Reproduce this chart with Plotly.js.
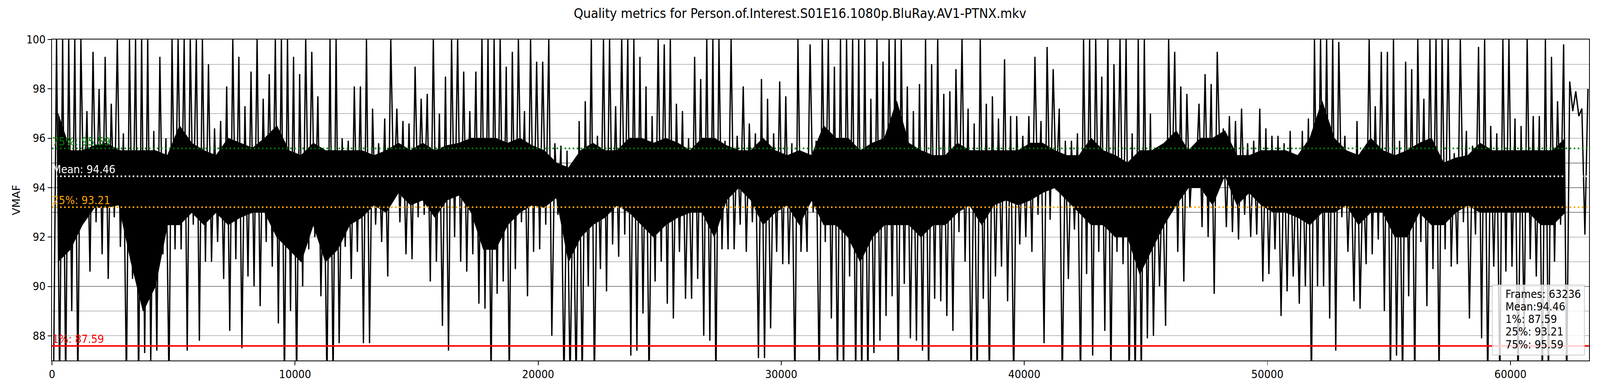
<!DOCTYPE html>
<html><head><meta charset="utf-8">
<script src="https://cdn.plot.ly/plotly-3.0.1.min.js"></script>
<style>html,body{margin:0;padding:0;background:#fff;overflow:hidden}
#chart{width:4400px;height:1000px;transform-origin:0 0}</style>
</head><body>
<div id="chart"></div>
<script>
// ---------------- data ----------------
const chartTitle = "Quality metrics for Person.of.Interest.S01E16.1080p.BluRay.AV1-PTNX.mkv";
const yLabel = "VMAF";
const frameCount = 63236;
const binFrames = 250;      // frames per envelope bin
const coreBinFrames = 500;  // frames per dense-core bin

// per-bin extreme high VMAF of each 250-frame bin
const spikeHi = [
100,100,100,100,100,97.1,99.5,98,99.3,97.4,
100,96.2,100,100,100,100,96.3,99.3,96,100,
100,100,100,100,100,99,96.4,96.7,98.1,100,
99.3,97.3,98.7,100,97.6,98.6,100,100,100,99.3,
98.6,100,99.5,97.7,95.5,100,100,96,95.9,98.1,
98.1,100,97.2,95.8,96.8,100,97.2,96.7,96.6,98.9,
97.6,97.8,100,97,98.5,100,100,98.7,97.1,98.7,
100,100,100,100,98.9,99.5,100,97.1,100,99.1,
99.1,100,95.8,95.7,95.5,94.7,96.7,97.5,100,96.1,
100,100,97.3,100,100,100,99.3,98.1,96.9,100,
99.8,100,97.4,97.1,96,99.3,98.4,100,100,100,
95.9,100,96.1,98.1,96.6,96.2,98.4,97.6,96.2,98.3,
97.7,95.8,100,95,99.8,95.9,100,100,98.9,100,
100,100,100,100,97.6,100,99.1,100,100,100,
98.1,97.1,98.2,100,99,100,97.8,97.9,98.8,100,
97.2,96.6,100,97.4,97.7,96.8,99.2,96.9,96.9,96.1,
96.9,99.3,96.7,99.7,98.8,97.2,95.9,95.9,96.2,100,
100,100,98.5,100,99,100,100,96.2,100,100,
97,95.4,94.7,100,99.5,98.1,97.8,95.4,97.4,98.6,
98.2,99.5,96.4,96.9,96.7,97.2,95.8,95.9,97.2,96.4,
96.1,96.1,95.8,96.3,94.9,96.3,96.8,100,100,100,
100,99.9,96.1,95.2,96.7,94.8,100,97.3,99.5,99.5,
100,95.9,99.1,98.8,100,97.6,100,100,100,100,
95.4,100,96.3,95.7,99.7,100,96.5,96.2,100,100,
96.8,96.5,100,96.9,96.9,100,99.3,97.5,99.8,98.3,
97.9,97.2,98
];
// per-bin extreme low VMAF of each 250-frame bin (86 = below the visible axis)
const spikeLo = [
86,86,86,89,86,92.7,90.6,92.6,91.3,90.3,
92.8,91.6,86,90.3,86,87.3,87,87.4,91.3,86,
91.5,91.5,87.4,92.5,87.8,91,91,91.8,90.3,88.2,
91.1,87.5,90.4,90,89.2,91.8,90.8,88.5,86,89,
86,90,91.5,92,89.6,86,86,87.7,91.6,90.3,
91.4,87.7,87.7,92.5,91.8,90.4,93.5,92.6,91.3,91.1,
92.8,92.9,90.2,91,88.4,87.4,92,91,90.6,91.3,
89.3,89.1,86,89.7,90.2,86,90.7,92.6,89.6,91.4,
91.5,92.5,88,92.9,86,86,86,86,90,86,
90.7,89.8,91.7,91.2,92.1,87.2,87.4,88.9,86,90.2,
91,89.3,88.7,91.4,89.5,89.5,90.3,88,87.8,86,
91.5,91.5,91.5,92.5,91.4,92.6,87.1,87.1,88.3,91.4,
90.9,90.9,86,91.4,91.4,93,86,91.8,88.7,86,
86,90.4,86,86,86,87.3,87.8,88.8,89.6,86,
90.1,87.9,87.8,87.4,86,89.5,89.4,88.8,88.2,92.2,
91,86,86,89.5,86,90.4,90.8,89.4,86,91.7,
92,91.4,92.9,87.7,92.7,93.9,86,90.3,92.3,86,
90.5,87.2,91.4,88.2,86,91.4,90.9,86,86,86,
87.9,88,90,88.4,93,91.4,90.2,93.2,94.3,92.4,
92,89.7,94.5,92.4,92.2,91.9,92.9,92,92.1,90.2,
90.5,91.5,88.8,89.8,90.4,89.3,90,86,90,90,
88.7,87.4,92.8,91.4,89.4,89.1,90.9,91.3,91.9,89,
86,87.2,86,89.6,86,91.8,89.2,90.7,86,91.5,
90.8,90.9,92.6,88.7,92.1,87.9,86,90.8,86,90.6,
90.8,86,88,91.1,90.4,86,86,91,92.5,86,
97.1,96.9,92.1
];
// dense (solid black) core of the trace, per 500-frame bin; none after frame 62500
const coreHi = [
97,95.5,95.5,95.7,95.8,95.5,95.5,95.5,95.5,95.3,
96.5,95.8,95.5,95.3,96,95.8,95.6,96,96.5,95.5,
95.3,95.8,95.5,95.5,95.5,95.5,95.3,95.5,95.8,95.5,
95.8,95.5,95.7,95.8,96,96,96,95.8,96,95.7,
95.5,95,94.8,95.5,95.8,95.5,95.5,96,96,95.8,
96,95.8,95.5,96,96,95.7,95.5,95.5,96,95.5,
95.3,95.5,95.3,96.5,96,96,95.5,95.8,96,97.5,
95.8,95.5,95.3,95.3,95.8,95.5,95.5,95.5,95.5,95.5,
95.8,95.8,95.5,95.3,95.3,96,95.5,95.3,95,95.5,
95.5,95.8,96.3,95.5,96,96,96.3,95.3,95.3,95.5,
95.5,95.5,95.3,96,97.5,96,95.5,95.3,96,95.5,
95.3,95.5,95.8,96,95,95.2,95.3,95.8,95.5,95.5,
95.5,95.5,95.5,95.5,96
];
const coreLo = [
91,91.5,92.5,93.2,93.2,93.3,91,89,90,92.5,
92.5,93,92.5,93,92.5,92.8,93,93,92,91.5,
91,92.5,91,91.5,92.5,92.8,93.3,93,93.8,93.3,
93.5,92.8,93.5,93.7,93,91.5,91.5,92.5,93,93.3,
93.2,93.6,91,92,92.5,92.8,93.3,93,92.5,92,
92.5,92.8,93,93,92,93.5,94,93.5,92.5,93,
93.3,92.5,93.5,92.5,92.5,92,91,92,92.5,92.5,
92.5,92,92.5,92.5,93,93.3,92.5,93.3,93.5,93.3,
93.5,93.8,94,93.5,93,92.5,92.5,92,92,90.5,
91.5,92.5,93.3,94,94,93.3,94.5,93.3,93.8,93.3,
93,93,92.8,92.5,93,93,93.3,92.5,93,93,
92,92,93,92.5,92.5,93,93.3,93,93,93,
93,93,92.5,92.5,93
];
// summary statistics
const statNames  = ["1%", "25%", "Mean", "75%"];
const statValues = [87.59, 93.21, 94.46, 95.59];
const yTicks = [88, 90, 92, 94, 96, 98, 100];
const xTicks = [0, 10000, 20000, 30000, 40000, 50000, 60000];

// ---------------- styles ----------------
const FONT = "DejaVu Sans, Liberation Sans, sans-serif";
const statColors = ["#ff0000", "#ffa500", "#ffffff", "#008000"];
const statDash   = ["solid", "4.2px,6.9px", "4.2px,6.9px", "4.2px,6.9px"];
const xMax = frameCount - 1;
const yRange = [87, 100];
const W = 4400, H = 1000;

// fit the 4400-wide design into the actual viewport
const sx = Math.min(1, (window.innerWidth || W) / W);
const sy = Math.min(1, (window.innerHeight || H) / H);
document.getElementById("chart").style.transform = "scale(" + sx + "," + sy + ")";

// ---------------- traces ----------------
const coreX = coreHi.map((_, i) => Math.min(i * coreBinFrames + coreBinFrames / 2, xMax));
const zx = [], zy = [];
spikeHi.forEach((h, i) => {
  zx.push(i * binFrames + binFrames * 0.25); zy.push(spikeLo[i]);
  zx.push(i * binFrames + binFrames * 0.75); zy.push(h);
});

const traces = [
  {x: coreX, y: coreLo, mode: "lines", line: {color: "#000", width: 2}, hoverinfo: "skip"},
  {x: coreX, y: coreHi, mode: "lines", fill: "tonexty", fillcolor: "#000",
   line: {color: "#000", width: 2}, hoverinfo: "skip"},
  {x: zx, y: zy, mode: "lines", line: {color: "#000", width: 3.6}, hoverinfo: "skip"}
];
statValues.forEach((v, i) => {
  traces.push({x: [0, xMax], y: [v, v], mode: "lines",
    line: {color: statColors[i], width: 4.2, dash: statDash[i]}, hoverinfo: "skip"});
});

// ---------------- layout ----------------
const plotTop = 101, plotBottom = 922, plotLeft = 143, plotRight = 4370;
const plotH = plotBottom - plotTop, plotW = plotRight - plotLeft;

const shapes = [];
[90, 95].forEach(v => shapes.push({type: "line", xref: "paper", x0: 0, x1: 1, yref: "y", y0: v, y1: v,
  line: {color: "#000", width: 1.5}, layer: "below"}));
// legend box
shapes.push({type: "rect", xref: "paper", yref: "paper",
  x0: (4104 - plotLeft) / plotW, x1: (4357 - plotLeft) / plotW,
  y0: (plotBottom - 908) / plotH, y1: (plotBottom - 729) / plotH,
  fillcolor: "rgba(255,255,255,0.8)", line: {color: "#cccccc", width: 2}, layer: "above"});

const annotations = [];
statValues.forEach((v, i) => {
  annotations.push({x: 0, y: v, xref: "x", yref: "y", xanchor: "left", yanchor: "bottom",
    text: statNames[i] + ": " + v.toFixed(2), showarrow: false, borderpad: 0,
    font: {family: FONT, size: 27.8, color: statColors[i]}});
});
const legendLines = ["Frames: " + frameCount, "Mean:" + statValues[2].toFixed(2),
  "1%: " + statValues[0].toFixed(2), "25%: " + statValues[1].toFixed(2), "75%: " + statValues[3].toFixed(2)];
legendLines.forEach((t, i) => {
  annotations.push({xref: "paper", yref: "paper", x: (4138 - plotLeft) / plotW,
    y: (plotBottom - (752 + 32.3 * i)) / plotH, xanchor: "left", yanchor: "middle",
    text: t, showarrow: false, font: {family: FONT, size: 27.8, color: "#000"}});
});

const layout = {
  width: W, height: H,
  margin: {l: plotLeft, r: W - plotRight, t: plotTop, b: H - plotBottom, pad: 0},
  paper_bgcolor: "#fff", plot_bgcolor: "#fff",
  showlegend: false, hovermode: false,
  font: {family: FONT, size: 27.8, color: "#000"},
  title: {text: chartTitle, x: 0.5, xref: "container", xanchor: "center",
    y: 1 - 34 / H, yref: "container", yanchor: "middle",
    font: {family: FONT, size: 33.3, color: "#000"}},
  xaxis: {range: [0, xMax], tickvals: xTicks, ticktext: xTicks.map(String),
    showgrid: false, zeroline: false, showline: true, mirror: true, linecolor: "#000", linewidth: 2,
    ticks: "outside", ticklen: 10, tickwidth: 2, tickcolor: "#000",
    tickfont: {family: FONT, size: 27.8, color: "#000"}},
  yaxis: {range: yRange, tickvals: yTicks, ticktext: yTicks.map(String),
    showgrid: false, zeroline: false, showline: true, mirror: true, linecolor: "#000", linewidth: 2,
    ticks: "outside", ticklen: 10, tickwidth: 2, tickcolor: "#000",
    tickfont: {family: FONT, size: 27.8, color: "#000"},
    minor: {dtick: 1, tick0: 0, showgrid: true, gridcolor: "#808080", gridwidth: 1.2, ticks: ""},
    title: {text: yLabel, standoff: 9, font: {family: FONT, size: 27.8, color: "#000"}}},
  shapes: shapes,
  annotations: annotations
};

Plotly.newPlot("chart", traces, layout, {staticPlot: true, displayModeBar: false});
</script>
</body></html>
